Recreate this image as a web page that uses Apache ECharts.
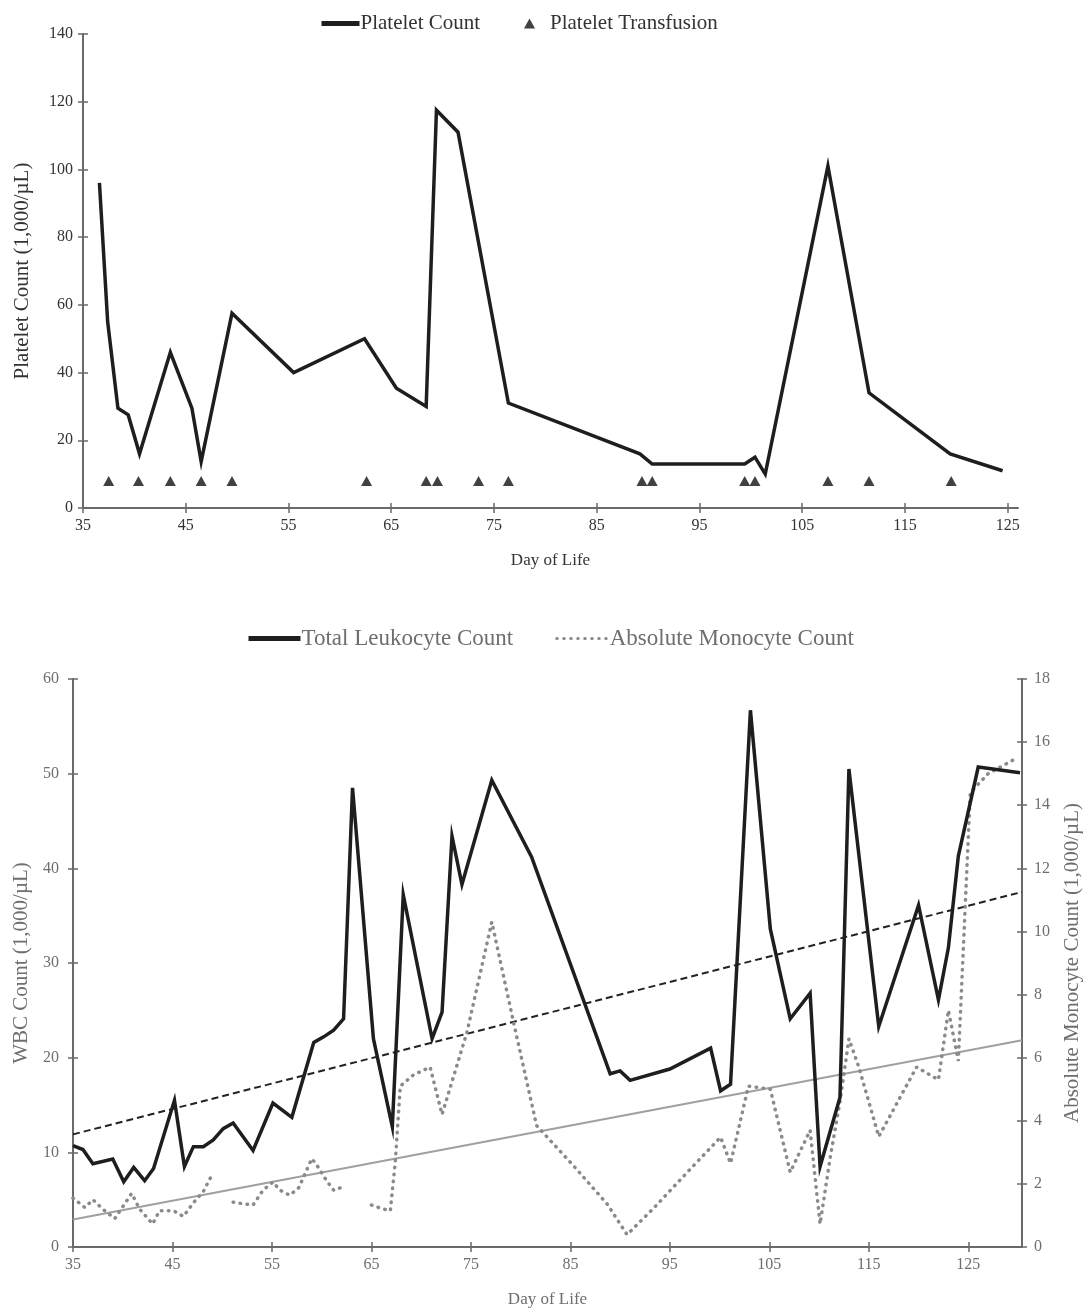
<!DOCTYPE html>
<html><head><meta charset="utf-8">
<script src="https://cdn.jsdelivr.net/npm/echarts@6/dist/echarts.min.js"></script>
<style>html,body{margin:0;padding:0;background:#fff}#chart{width:1084px;height:1312px}</style>
</head><body><div id="chart"></div>
<script>
// ---------- data ----------
const xTickValues = [35, 45, 55, 65, 75, 85, 95, 105, 115, 125];

// Top panel: platelet count
const plateletDays  = [36.6, 37.4, 38.4, 39.4, 40.5, 43.5, 45.6, 46.5, 49.5, 55.5, 62.4, 65.5, 68.4, 69.4, 71.5, 76.4, 89.2, 90.4, 99.4, 100.4, 101.4, 107.5, 111.5, 119.4, 124.5];
const plateletCount = [96, 55, 29.5, 27.5, 16, 46, 29.5, 13.7, 57.5, 40, 50, 35.4, 30, 117.5, 111, 31, 16, 13, 13, 15, 10, 101, 34, 16, 11];

// Top panel: transfusion days (marker drawn at a fixed level)
const transfusionDays  = [37.5, 40.4, 43.5, 46.5, 49.5, 62.6, 68.4, 69.5, 73.5, 76.4, 89.4, 90.4, 99.4, 100.4, 107.5, 111.5, 119.5];
const transfusionLevel = [8, 8, 8, 8, 8, 8, 8, 8, 8, 8, 8, 8, 8, 8, 8, 8, 8];

// Bottom panel: total leukocyte count (left axis)
const wbcDays  = [35, 36, 37, 39, 40.1, 41.1, 42.2, 43.1, 45.2, 46.2, 47.1, 48.1, 49.1, 50.1, 51.1, 53.1, 55.1, 57, 59.2, 60.2, 61.2, 62.2, 63.1, 65.2, 67.1, 68.2, 71.1, 72.1, 73.1, 74.1, 77.1, 81.1, 89, 90, 91, 95, 99.1, 100.1, 101.1, 103.1, 105.1, 107.1, 109.1, 110.1, 112.1, 113, 116, 120, 122, 123, 124, 126, 130.2];
const wbcCount = [10.7, 10.3, 8.8, 9.3, 6.9, 8.4, 7.0, 8.3, 15.5, 8.5, 10.6, 10.6, 11.3, 12.5, 13.1, 10.2, 15.2, 13.7, 21.6, 22.2, 22.9, 24.1, 48.5, 22.0, 12.7, 37.2, 22.0, 24.8, 43.4, 38.3, 49.3, 41.2, 18.3, 18.6, 17.6, 18.8, 21.0, 16.5, 17.2, 56.7, 33.6, 24.1, 26.8, 8.5, 15.8, 50.5, 23.3, 36.1, 26.1, 31.6, 41.3, 50.7, 50.1];

// Bottom panel: absolute monocyte count (right axis); null = gap in the record
const monoDays  = [35, 36.2, 37, 38, 39.2, 40.9, 41.7, 43, 43.7, 45.1, 46.1, 47.1, 48.1, 49, 50, 51.1, 52.1, 53.1, 54.1, 55.1, 55.8, 56.8, 57.7, 59, 59.5, 60.5, 61.2, 62.1, 63.5, 65, 66.1, 66.9, 67.4, 67.9, 69.2, 70.9, 72.1, 74.6, 77.1, 79.3, 81.6, 85.3, 88.7, 90.7, 93.4, 97, 100.1, 101.1, 102.9, 105.1, 107.1, 109.1, 110.1, 111.1, 112.1, 113, 114, 116, 119.8, 122, 123, 124, 125.2, 127, 129.9];
const monoCount = [1.55, 1.25, 1.5, 1.2, 0.9, 1.7, 1.2, 0.73, 1.15, 1.15, 0.97, 1.4, 1.76, 2.3, null, 1.42, 1.37, 1.33, 1.8, 2.06, 1.8, 1.64, 1.88, 2.8, 2.6, 2.1, 1.8, 1.9, null, 1.33, 1.21, 1.15, 2.7, 5.1, 5.45, 5.7, 4.2, 6.8, 10.3, 7.1, 3.85, 2.58, 1.36, 0.39, 1.24, 2.45, 3.48, 2.65, 5.1, 5.0, 2.37, 3.7, 0.73, 2.8, 4.6, 6.6, 5.7, 3.5, 5.7, 5.3, 7.5, 5.9, 14.4, 15.0, 15.5];

// Linear trend lines (end points)
const trendDays     = [35, 130.4];
const wbcTrend      = [11.9, 37.5];
const monoTrend     = [0.87, 6.55];

// ---------- helpers ----------
const zip = (xs, ys) => xs.map((x, i) => [x, ys[i]]);
const FONT = '"Liberation Serif", "DejaVu Serif", serif';
const TOP_TXT = '#333333';
const BOT_TXT = '#6e6e6e';
const AXIS_COL = '#6a6a6a';

function valueAxisX(grid, max, color, withName) {
  return {
    type: 'value', gridIndex: grid, min: 35, max: max,
    splitLine: { show: false },
    axisLine: { show: withName, onZero: false, lineStyle: { color: AXIS_COL, width: 2 } },
    axisTick: { show: true, inside: !withName, length: 5, customValues: xTickValues, lineStyle: { color: AXIS_COL, width: 1.5 } },
    axisLabel: { show: withName, customValues: xTickValues, color: color, fontFamily: FONT, fontSize: 16, margin: 10 },
    name: withName ? 'Day of Life' : '', nameLocation: 'middle', nameGap: 44,
    nameTextStyle: { color: color, fontFamily: FONT, fontSize: 17 }
  };
}
function valueAxisY(grid, pos, max, interval, color, withName, name, gap, margin) {
  return {
    type: 'value', gridIndex: grid, position: pos, min: 0, max: max, interval: interval,
    splitLine: { show: false },
    axisLine: { show: withName, onZero: false, lineStyle: { color: AXIS_COL, width: 2 } },
    axisTick: { show: true, inside: !withName, length: 5, lineStyle: { color: AXIS_COL, width: 1.5 } },
    axisLabel: { show: withName, color: color, fontFamily: FONT, fontSize: 16, margin: margin || 10 },
    name: withName ? name : '', nameLocation: 'middle', nameGap: gap,
    nameTextStyle: { color: color, fontFamily: FONT, fontSize: 21 }
  };
}

const chart = echarts.init(document.getElementById('chart'), null, { renderer: 'canvas' });
chart.setOption({
  animation: false,
  backgroundColor: '#ffffff',
  grid: [
    { left: 83, top: 34, width: 935, height: 474, outerBoundsMode: 'none', containLabel: false },
    { left: 73, top: 679, width: 949, height: 568, outerBoundsMode: 'none', containLabel: false },
    { left: 83, top: 34, width: 935, height: 474, outerBoundsMode: 'none', containLabel: false },
    { left: 73, top: 679, width: 949, height: 568, outerBoundsMode: 'none', containLabel: false }
  ],
  legend: [
    { data: [{ name: 'Platelet Count', itemStyle: { opacity: 0 }, lineStyle: { width: 5 } }],
      left: 314, top: 8, itemWidth: 38, itemHeight: 12,
      textStyle: { color: TOP_TXT, fontFamily: FONT, fontSize: 21, padding: [0, 0, 0, -4] } },
    { data: ['Platelet Transfusion'], left: 519, top: 8, itemWidth: 11, itemHeight: 10,
      textStyle: { color: TOP_TXT, fontFamily: FONT, fontSize: 21, padding: [0, 0, 0, 10] } },
    { data: [
        { name: 'Total Leukocyte Count', itemStyle: { opacity: 0 }, lineStyle: { width: 5 } },
        { name: 'Absolute Monocyte Count', itemStyle: { opacity: 0 }, lineStyle: { width: 3 } }
      ],
      left: 241, top: 622, itemGap: 42, itemWidth: 52, itemHeight: 12,
      textStyle: { color: BOT_TXT, fontFamily: FONT, fontSize: 23, padding: [0, 0, 0, -4] } }
  ],
  xAxis: [
    valueAxisX(0, 126, TOP_TXT, true),
    valueAxisX(1, 130.4, BOT_TXT, true),
    valueAxisX(2, 126, TOP_TXT, false),
    valueAxisX(3, 130.4, BOT_TXT, false)
  ],
  yAxis: [
    valueAxisY(0, 'left', 140, 20, TOP_TXT, true, 'Platelet Count (1,000/µL)', 50, 10),
    valueAxisY(1, 'left', 60, 10, BOT_TXT, true, 'WBC Count (1,000/µL)', 32, 14),
    valueAxisY(1, 'right', 18, 2, BOT_TXT, true, 'Absolute Monocyte Count (1,000/µL)', 40, 12),
    valueAxisY(2, 'left', 140, 20, TOP_TXT, false, '', 0),
    valueAxisY(3, 'left', 60, 10, BOT_TXT, false, '', 0),
    valueAxisY(3, 'right', 18, 2, BOT_TXT, false, '', 0)
  ],
  series: [
    { name: 'Platelet Count', type: 'line', xAxisIndex: 0, yAxisIndex: 0, data: zip(plateletDays, plateletCount),
      symbol: 'none', lineStyle: { color: '#1e1e1e', width: 3.5, join: 'miter' }, itemStyle: { color: '#1e1e1e' }, z: 3 },
    { name: 'Platelet Transfusion', type: 'scatter', xAxisIndex: 0, yAxisIndex: 0, data: zip(transfusionDays, transfusionLevel),
      symbol: 'triangle', symbolSize: [11, 10], itemStyle: { color: '#111111' }, z: 4 },
    { name: 'Total Leukocyte Count', type: 'line', xAxisIndex: 1, yAxisIndex: 1, data: zip(wbcDays, wbcCount),
      symbol: 'none', lineStyle: { color: '#1e1e1e', width: 3.5, join: 'miter' }, itemStyle: { color: '#1e1e1e' }, z: 4 },
    { name: 'Absolute Monocyte Count', type: 'line', xAxisIndex: 1, yAxisIndex: 2, data: zip(monoDays, monoCount),
      symbol: 'none', connectNulls: false,
      lineStyle: { color: '#8a8a8a', width: 3.5, type: [0.5, 6.5], cap: 'round' }, itemStyle: { color: '#8a8a8a' }, z: 3 },
    { name: 'WBC trend', type: 'line', xAxisIndex: 1, yAxisIndex: 1, data: zip(trendDays, wbcTrend),
      symbol: 'none', lineStyle: { color: '#222222', width: 2, type: [7, 4] }, z: 2 },
    { name: 'Monocyte trend', type: 'line', xAxisIndex: 1, yAxisIndex: 2, data: zip(trendDays, monoTrend),
      symbol: 'none', lineStyle: { color: '#a0a0a0', width: 2 }, z: 2 }
  ]
});
</script>
</body></html>
